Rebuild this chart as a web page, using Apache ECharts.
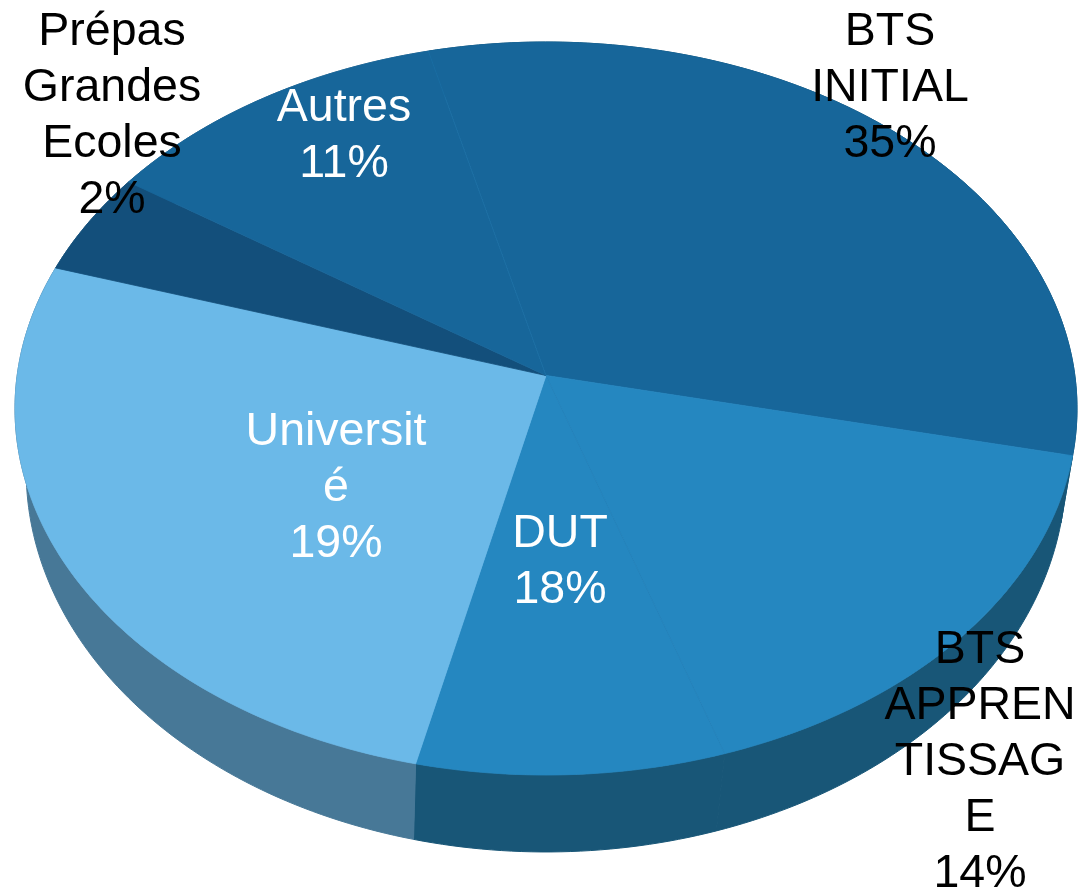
<!DOCTYPE html>
<html>
<head>
<meta charset="utf-8">
<style>
html, body { margin: 0; padding: 0; background: #fff; overflow: hidden; }
#chart { width: 1085px; height: 890px; }
</style>
</head>
<body>
<div id="chart"></div>
<script src="https://cdn.jsdelivr.net/npm/echarts@6/dist/echarts.min.js"></script>
<script>
// sweep of each slice in degrees as drawn, clockwise from Autres/BTS INITIAL edge
const names = ['BTS INITIAL', 'BTS APPRENTISSAGE', 'DUT', 'Université', 'Prépas Grandes Ecoles', 'Autres'];
const sweeps = [116.5, 59.5, 31, 94.7, 16.3, 42];
const percents = ['35%', '14%', '18%', '19%', '2%', '11%'];
const labelLines = [
    ['BTS', 'INITIAL'],
    ['BTS', 'APPREN', 'TISSAG', 'E'],
    ['DUT'],
    ['Universit', 'é'],
    ['Prépas', 'Grandes', 'Ecoles'],
    ['Autres']
];
const startAngle = 346;

const faceColors = ['#17669a', '#2587c0', '#2587c0', '#6bb9e8', '#134f7b', '#17669a'];
const wallColors = ['#185677', '#185677', '#185677', '#477897', '#477897', '#477897'];
const labelColors = ['#000', '#000', '#fff', '#fff', '#000', '#fff'];
const labelPos = [[890, 4], [980, 622], [560, 506], [336, 404], [112, 4], [344, 80]];

// perspective offset of the apex from the rim's centre
const apexOffset = -0.09;
const topRim = { sx: 1, sy: 1, dy: 0, skew: 0 };
const bottomRim = { sx: 0.979, sy: 1.041, dy: 0.169, skew: 0.5 };

let acc = startAngle;
const rows = sweeps.map((s, i) => {
    const row = [acc, s, i];
    acc += s;
    return row;
});

const rimPoint = (deg, rim) => {
    const r = (deg + rim.skew) * Math.PI / 180;
    const X = Math.sin(r), Y = -Math.cos(r);
    const d = apexOffset * Y + 1;
    const u = X * Math.sqrt(1 - apexOffset * apexOffset) / d;
    const v = (Y + apexOffset) / d;
    return [u * rim.sx, v * rim.sy + rim.dy];
};

const arc = (start, sweep, rim, api) => {
    const pts = [];
    const n = Math.ceil(sweep);
    for (let i = 0; i <= n; i++) {
        pts.push(api.coord(rimPoint(start + sweep * i / n, rim)));
    }
    return pts;
};

const renderWall = (params, api) => {
    const top = arc(api.value(0), api.value(1), topRim, api);
    const bottom = arc(api.value(0), api.value(1), bottomRim, api);
    const color = wallColors[api.value(2)];
    return {
        type: 'polygon',
        shape: { points: top.concat(bottom.reverse()) },
        style: { fill: color, stroke: color, lineWidth: 1 }
    };
};

const renderFace = (params, api) => {
    const apex = api.coord([0, apexOffset]);
    const color = faceColors[api.value(2)];
    return {
        type: 'polygon',
        shape: { points: [apex].concat(arc(api.value(0), api.value(1), topRim, api)) },
        style: { fill: color, stroke: color, lineWidth: 0.8 }
    };
};

// faint seam where two slices share a colour
const renderSeam = (params, api) => {
    const i = api.value(2);
    if (faceColors[i] !== faceColors[(i + sweeps.length - 1) % sweeps.length]) return null;
    const apex = api.coord([0, apexOffset]);
    const end = api.coord(rimPoint(api.value(0), topRim));
    return {
        type: 'line',
        shape: { x1: apex[0], y1: apex[1], x2: end[0], y2: end[1] },
        style: { stroke: '#1f78b0', lineWidth: 0.5, opacity: 0.8 }
    };
};

const chart = echarts.init(document.getElementById('chart'), null, { renderer: 'canvas' });
const customSeries = (renderItem) => ({
    type: 'custom',
    coordinateSystem: 'cartesian2d',
    clip: false,
    silent: true,
    animation: false,
    encode: { x: 0, y: 1 },
    data: rows,
    renderItem
});

chart.setOption({
    animation: false,
    grid: { left: 15, top: 42, width: 1062, height: 733 },
    xAxis: { type: 'value', min: -1, max: 1, show: false },
    yAxis: { type: 'value', min: -1, max: 1, inverse: true, show: false },
    series: [customSeries(renderWall), customSeries(renderFace), customSeries(renderSeam)],
    graphic: labelLines.map((lines, i) => ({
        type: 'text',
        x: labelPos[i][0],
        y: labelPos[i][1],
        z: 100,
        style: {
            text: lines.concat(percents[i]).join('\n'),
            fill: labelColors[i],
            font: '46.5px "Liberation Sans", Arial, sans-serif',
            lineHeight: 56,
            align: 'center',
            verticalAlign: 'top'
        }
    }))
});
</script>
</body>
</html>
